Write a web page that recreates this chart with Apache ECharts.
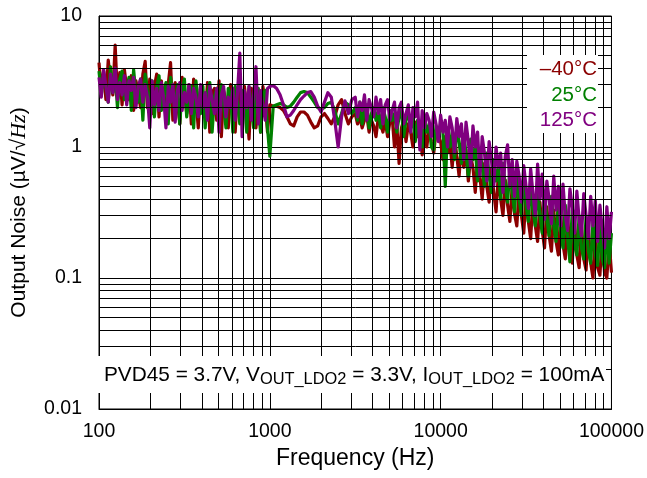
<!DOCTYPE html>
<html>
<head>
<meta charset="utf-8">
<script src="https://cdn.jsdelivr.net/npm/echarts@6/dist/echarts.min.js"></script>
<style>
  html, body { margin: 0; padding: 0; background: #fff; }
  #chart { width: 647px; height: 478px; }
</style>
</head>
<body>
<div id="chart"></div>
<script>
// frequency sampling (Hz): dense below 1 kHz and above 3 kHz, coarser on the smooth 1-3 kHz stretch
const freqLow = Array.from({ length: 74 }, (_, i) => 100 * Math.pow(10, i / 74))
const freqMid = Array.from({ length: 25 }, (_, j) => 1000 * Math.pow(10, j / 50))
const freqHigh = Array.from({ length: 112 }, (_, k) => Math.pow(10, 3.5 + k / 74))
const freqs = freqLow.concat(freqMid, freqHigh)

// output noise (uV/rtHz)
const noiseM40Low = [
  4.4, 2.7, 3.8, 2.3, 4.6, 3.2, 2.5, 6.0, 2.4, 3.7,
  2.1, 3.9, 2.8, 2.3, 3.5, 1.9, 3.2, 2.6, 2.0, 3.6,
  4.5, 2.0, 3.3, 1.8, 2.9, 3.6, 1.7, 3.2, 2.4, 2.0,
  3.0, 4.4, 1.6, 3.1, 2.2, 1.5, 3.4, 2.6, 1.8, 3.0,
  1.5, 3.3, 2.3, 1.4, 2.9, 2.0, 1.7, 3.1, 1.3, 2.6,
  2.8, 1.6, 3.2, 1.2, 2.7, 2.2, 1.4, 3.0, 1.9, 1.3,
  2.8, 2.4, 1.5, 2.9, 2.0, 1.15, 2.8, 2.3, 1.4, 2.7,
  1.3, 2.9, 2.2, 1.3
]
const noiseM40Mid = [
  2.1, 2.05, 2.05, 2.0, 1.9, 1.7, 1.5, 1.45, 1.7, 1.85,
  1.85, 1.75, 1.55, 1.4, 1.45, 1.7, 1.8, 1.65, 1.5, 1.7,
  2.1, 2.3, 1.8, 1.5, 1.7
]
const noiseM40High = [
  1.8, 1.5, 1.7, 1.4, 1.6, 1.75, 1.3, 1.6, 1.45, 1.2,
  1.7, 1.5, 1.3, 1.6, 1.2, 1.55, 1.7, 1.0, 1.5, 0.75,
  1.4, 1.6, 1.1, 1.5, 1.3, 1.0, 1.55, 1.2, 1.4, 0.87,
  1.3, 1.0, 1.4, 1.1, 0.9, 1.3, 1.2, 1.1, 0.8, 1.2,
  0.9, 1.1, 0.7, 1.2, 0.85, 0.6, 1.05, 0.7, 0.95, 0.55,
  0.85, 0.7, 0.45, 0.8, 0.6, 0.4, 0.75, 0.5, 0.38, 0.68,
  0.45, 0.32, 0.62, 0.4, 0.3, 0.56, 0.36, 0.27, 0.5, 0.31,
  0.25, 0.47, 0.3, 0.22, 0.44, 0.27, 0.2, 0.41, 0.25, 0.19,
  0.38, 0.23, 0.17, 0.35, 0.21, 0.16, 0.33, 0.19, 0.15, 0.31,
  0.18, 0.14, 0.29, 0.17, 0.13, 0.27, 0.15, 0.12, 0.25, 0.14,
  0.115, 0.24, 0.13, 0.1, 0.22, 0.12, 0.105, 0.21, 0.11, 0.1,
  0.19, 0.11
]

const noise25Low = [
  3.8, 2.5, 3.5, 2.9, 2.2, 4.1, 2.6, 3.6, 2.0, 3.3,
  3.8, 2.3, 2.8, 3.4, 1.9, 3.9, 2.5, 2.2, 3.3, 1.6,
  3.6, 2.7, 2.0, 3.2, 1.7, 2.9, 3.5, 1.9, 2.6, 3.1,
  1.5, 3.4, 2.4, 2.0, 3.0, 1.5, 2.7, 3.3, 1.7, 2.5,
  2.9, 1.4, 3.2, 2.2, 1.8, 2.9, 1.4, 2.6, 3.1, 1.3,
  2.4, 2.8, 1.6, 3.0, 2.1, 1.4, 2.8, 2.5, 1.3, 2.9,
  2.2, 1.5, 2.7, 2.4, 1.3, 2.9, 2.0, 1.4, 2.6, 2.8,
  1.3, 2.5, 2.7, 1.4
]
const noise25Mid = [
  0.85, 2.05, 2.1, 2.15, 2.1, 2.0, 2.05, 2.2, 2.4, 2.6,
  2.65, 2.6, 2.4, 2.2, 2.0, 1.95, 2.0, 2.15, 2.2, 1.9,
  1.5, 1.8, 2.2, 2.1, 1.8
]
const noise25High = [
  2.0, 1.6, 2.2, 1.5, 1.9, 2.1, 1.4, 1.8, 2.0, 1.6,
  1.9, 1.4, 2.0, 1.7, 1.3, 1.9, 1.6, 1.8, 1.3, 1.7,
  1.9, 1.2, 1.6, 1.8, 1.4, 1.7, 1.1, 1.6, 1.5, 1.0,
  1.6, 1.3, 1.5, 1.0, 0.95, 1.45, 1.2, 1.5, 1.3, 0.5,
  1.4, 1.0, 1.3, 0.8, 1.35, 1.1, 0.75, 1.25, 0.9, 0.6,
  1.15, 0.8, 1.0, 0.55, 0.95, 0.7, 0.5, 0.9, 0.6, 0.45,
  0.8, 0.55, 0.7, 0.4, 0.75, 0.5, 0.38, 0.68, 0.45, 0.32,
  0.62, 0.4, 0.3, 0.58, 0.36, 0.27, 0.52, 0.33, 0.25, 0.5,
  0.3, 0.22, 0.46, 0.28, 0.21, 0.42, 0.25, 0.19, 0.4, 0.23,
  0.17, 0.36, 0.2, 0.133, 0.33, 0.18, 0.15, 0.3, 0.17, 0.14,
  0.29, 0.16, 0.13, 0.27, 0.15, 0.125, 0.25, 0.14, 0.12, 0.24,
  0.13, 0.22
]

const noise125Low = [
  3.4, 2.4, 3.9, 2.9, 2.2, 3.6, 2.6, 4.0, 2.3, 3.1,
  2.5, 3.5, 2.1, 3.2, 2.7, 3.4, 2.0, 2.9, 3.3, 2.2,
  3.0, 2.4, 1.4, 3.2, 2.1, 2.8, 1.9, 3.1, 2.4, 1.4,
  2.9, 2.2, 3.0, 1.55, 2.7, 3.1, 1.9, 2.6, 2.2, 3.0,
  1.8, 2.8, 2.4, 1.7, 3.0, 2.0, 2.6, 1.6, 2.9, 2.3,
  1.8, 2.8, 1.3, 2.5, 2.9, 1.7, 2.4, 2.0, 2.8, 1.6,
  2.6, 5.2, 1.2, 2.7, 2.0, 2.9, 1.6, 2.5, 4.1, 1.5,
  2.7, 2.1, 1.6, 2.8
]
const noise125Mid = [
  2.9, 2.95, 2.8, 2.5, 2.1, 1.7, 1.75, 1.9, 2.1, 2.3,
  2.45, 2.6, 2.65, 2.4, 2.05, 1.85, 2.2, 2.6, 2.4, 1.6,
  1.0, 1.7, 2.25, 1.8, 2.3
]
const noise125High = [
  2.4, 1.7, 2.2, 1.9, 2.5, 1.6, 2.3, 2.0, 1.7, 2.4,
  1.8, 2.3, 1.5, 2.1, 2.3, 1.6, 1.9, 2.2, 1.4, 2.0,
  2.2, 1.5, 1.8, 2.1, 1.3, 2.0, 1.7, 2.2, 0.95, 1.9,
  1.4, 1.8, 1.6, 1.2, 1.85, 1.5, 1.1, 1.75, 1.3, 1.6,
  1.0, 1.7, 1.4, 0.9, 1.65, 1.2, 1.5, 0.8, 1.55, 1.1,
  0.7, 1.45, 1.0, 1.3, 0.6, 1.2, 0.9, 0.55, 1.1, 0.8,
  0.5, 1.0, 0.7, 0.9, 0.45, 0.85, 1.04, 0.5, 0.8, 0.42,
  0.78, 0.6, 0.38, 0.72, 0.5, 0.34, 0.68, 0.44, 0.3, 0.74,
  0.4, 0.62, 0.28, 0.55, 0.4, 0.26, 0.6, 0.33, 0.5, 0.25,
  0.52, 0.3, 0.23, 0.48, 0.35, 0.22, 0.46, 0.28, 0.21, 0.44,
  0.3, 0.2, 0.42, 0.25, 0.39, 0.19, 0.36, 0.24, 0.17, 0.35,
  0.2, 0.32
]

const seriesNames = ['–40°C', '25°C', '125°C']
const seriesColors = ['#8b0000', '#008000', '#800080']
const seriesValues = [
  noiseM40Low.concat(noiseM40Mid, noiseM40High),
  noise25Low.concat(noise25Mid, noise25High),
  noise125Low.concat(noise125Mid, noise125High)
]

// minor grid positions (2..9 of each decade)
const xMinor = [200, 300, 400, 500, 600, 700, 800, 900,
  2000, 3000, 4000, 5000, 6000, 7000, 8000, 9000,
  20000, 30000, 40000, 50000, 60000, 70000, 80000, 90000]
const yMinor = [0.02, 0.03, 0.04, 0.05, 0.06, 0.07, 0.08, 0.09,
  0.2, 0.3, 0.4, 0.5, 0.6, 0.7, 0.8, 0.9,
  2, 3, 4, 5, 6, 7, 8, 9]

const font = 'Liberation Sans, Arial, sans-serif'
const chart = echarts.init(document.getElementById('chart'))

const lineSeries = seriesValues.map((vals, k) => ({
  name: seriesNames[k],
  type: 'line',
  data: freqs.map((f, i) => [f, vals[i]]),
  showSymbol: false,
  lineStyle: { color: seriesColors[k], width: 3.2, join: 'round' },
  itemStyle: { color: seriesColors[k] },
  z: 3
}))

const option = {
  animation: false,
  backgroundColor: '#fff',
  grid: {
    left: 97, right: 35, top: 16, bottom: 69,
    show: true, borderColor: '#000', borderWidth: 1
  },
  xAxis: {
    type: 'log',
    logBase: 10,
    min: 100,
    max: 100000,
    name: 'Frequency (Hz)',
    nameLocation: 'middle',
    nameGap: 37,
    nameTextStyle: { fontFamily: font, fontSize: 23, color: '#000' },
    axisLine: { lineStyle: { color: '#000', width: 1 } },
    axisTick: { show: false },
    axisLabel: { fontFamily: font, fontSize: 19.5, color: '#000', margin: 13, formatter: v => String(v) },
    splitLine: { show: true, lineStyle: { color: '#000', width: 1 } }
  },
  yAxis: {
    type: 'log',
    logBase: 10,
    min: 0.01,
    max: 10,
    name: 'Output Noise (µV/√{i|Hz})',
    nameLocation: 'middle',
    nameGap: 69,
    nameTextStyle: {
      fontFamily: font, fontSize: 21, color: '#000',
      rich: { i: { fontFamily: 'Liberation Serif, serif', fontStyle: 'italic', fontSize: 22, color: '#000' } }
    },
    axisLine: { lineStyle: { color: '#000', width: 1 } },
    axisTick: { show: false },
    axisLabel: { fontFamily: font, fontSize: 19.5, color: '#000', margin: 17 },
    splitLine: { show: true, lineStyle: { color: '#000', width: 1 } }
  },
  series: [
    {
      // minor grid
      type: 'line',
      data: [],
      silent: true,
      z: 1,
      markLine: {
        silent: true,
        symbol: 'none',
        animation: false,
        label: { show: false },
        lineStyle: { color: '#000', width: 1, type: 'solid' },
        data: xMinor.map(v => ({ xAxis: v })).concat(yMinor.map(v => ({ yAxis: v })))
      }
    }
  ].concat(lineSeries),
  graphic: [
    {
      type: 'rect', z: 100,
      shape: { x: 527, y: 55, width: 71, height: 78 },
      style: { fill: '#fff' }
    },
    {
      type: 'text', z: 101, x: 597, y: 69,
      style: { text: seriesNames[0], fill: seriesColors[0], font: '20.5px ' + font, textAlign: 'right', textVerticalAlign: 'middle' }
    },
    {
      type: 'text', z: 101, x: 597, y: 95,
      style: { text: seriesNames[1], fill: seriesColors[1], font: '20.5px ' + font, textAlign: 'right', textVerticalAlign: 'middle' }
    },
    {
      type: 'text', z: 101, x: 597, y: 120,
      style: { text: seriesNames[2], fill: seriesColors[2], font: '20.5px ' + font, textAlign: 'right', textVerticalAlign: 'middle' }
    },
    {
      type: 'rect', z: 100,
      shape: { x: 98, y: 356, width: 508, height: 37 },
      style: { fill: '#fff' }
    },
    {
      type: 'text', z: 101, x: 104, y: 375,
      style: {
        text: '{n|PVD45 = 3.7V, V}{s|OUT_LDO2}{n| = 3.3V, I}{s|OUT_LDO2}{n| = 100mA}',
        textVerticalAlign: 'middle',
        rich: {
          n: { fontFamily: font, fontSize: 20.8, fill: '#000', lineHeight: 30, verticalAlign: 'middle', height: 30 },
          s: { fontFamily: font, fontSize: 16.4, fill: '#000', lineHeight: 30, verticalAlign: 'bottom', height: 22 }
        }
      }
    }
  ]
}

chart.setOption(option)
window.addEventListener('resize', () => chart.resize())
</script>
</body>
</html>
